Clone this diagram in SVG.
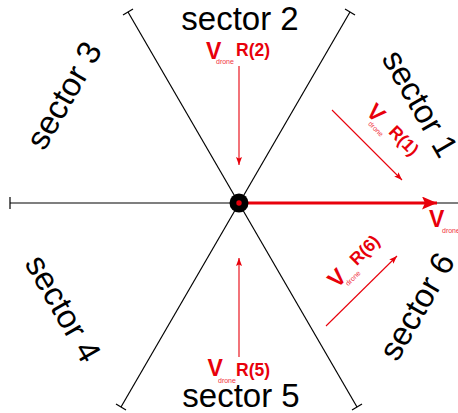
<svg xmlns="http://www.w3.org/2000/svg" width="458" height="413" viewBox="0 0 458 413">
<style>
.ax{stroke:#000;stroke-width:1.2;fill:none}
.sec{font-family:"Liberation Sans",Arial,sans-serif;font-size:33px;fill:#000;text-anchor:middle}
.ra{stroke:#e8000b;stroke-width:1.1;fill:none;marker-end:url(#ah)}
.V{font-family:"Liberation Sans",Arial,sans-serif;font-size:23px;font-weight:bold;fill:#e8000b}
.R{font-family:"Liberation Sans",Arial,sans-serif;font-size:17.5px;font-weight:bold;fill:#e8000b}
.d{font-family:"Liberation Sans",Arial,sans-serif;font-size:7px;fill:#f03040}
</style>
<defs>
<marker id="ah" markerUnits="userSpaceOnUse" markerWidth="9" markerHeight="7" refX="8" refY="3.5" orient="auto">
<path d="M0,0.5 L8,3.5 L0,6.5 L1.5,3.5 z" fill="#e8000b"/>
</marker>
<marker id="bh" markerUnits="userSpaceOnUse" markerWidth="16" markerHeight="14" refX="15" refY="6.5" orient="auto">
<path d="M0,0 L15,6.5 L0,13 L3,6.5 z" fill="#e8000b"/>
</marker>
</defs>
<g id="connectors">
<line class="ax" x1="10" y1="203" x2="470" y2="203"/>
<line class="ax" x1="10" y1="197" x2="10" y2="209"/>
<line class="ax" x1="128" y1="12" x2="357" y2="407"/>
<line class="ax" x1="123" y1="15" x2="133" y2="9"/>
<line class="ax" x1="352" y1="410" x2="362" y2="404"/>
<line class="ax" x1="350" y1="12" x2="121" y2="407"/>
<line class="ax" x1="345" y1="9" x2="355" y2="15"/>
<line class="ax" x1="116" y1="404" x2="126" y2="410"/>
<line class="ra" x1="239" y1="66" x2="239" y2="165"/>
<line class="ra" x1="239" y1="357" x2="239" y2="258"/>
<line class="ra" x1="332" y1="110" x2="402" y2="180"/>
<line class="ra" x1="326" y1="326" x2="397" y2="256"/>
<line x1="239" y1="203" x2="437" y2="203" stroke="#e8000b" stroke-width="3" marker-end="url(#bh)"/>
</g>
<g id="center">
<circle cx="239" cy="203" r="9.5" fill="#000"/>
<circle cx="239" cy="203" r="2.7" fill="#e8000b"/>
</g>
<g id="sector2"><text class="sec" x="240" y="30">sector 2</text></g>
<g id="sector5"><text class="sec" x="241" y="407">sector 5</text></g>
<g id="sector3"><text class="sec" transform="translate(65,96) rotate(-60)" y="10">sector 3</text></g>
<g id="sector4"><text class="sec" transform="translate(62,309) rotate(60)" y="10">sector 4</text></g>
<g id="sector1"><text class="sec" transform="translate(419,104) rotate(60)" y="10">sector 1</text></g>
<g id="sector6"><text class="sec" transform="translate(418,307) rotate(-60)" y="10">sector 6</text></g>
<g id="vr2">
<text class="V" x="206" y="58.5">V</text><text class="d" x="216" y="64">drone</text><text class="R" x="236" y="56">R(2)</text>
</g>
<g id="vr5">
<text class="V" x="207.5" y="376">V</text><text class="d" x="218" y="382.5">drone</text><text class="R" x="236" y="375.5">R(5)</text>
</g>
<g id="vr1" transform="translate(365,113) rotate(45)">
<text class="V" x="0" y="0">V</text><text class="d" x="10" y="6">drone</text><text class="R" x="30" y="-2">R(1)</text>
</g>
<g id="vr6" transform="translate(337,289) rotate(-45)">
<text class="V" x="0" y="0">V</text><text class="d" x="10" y="6">drone</text><text class="R" x="30" y="-2">R(6)</text>
</g>
<g id="vdrone">
<text class="V" x="429" y="227">V</text><text class="d" x="442" y="233">drone</text>
</g>
</svg>
